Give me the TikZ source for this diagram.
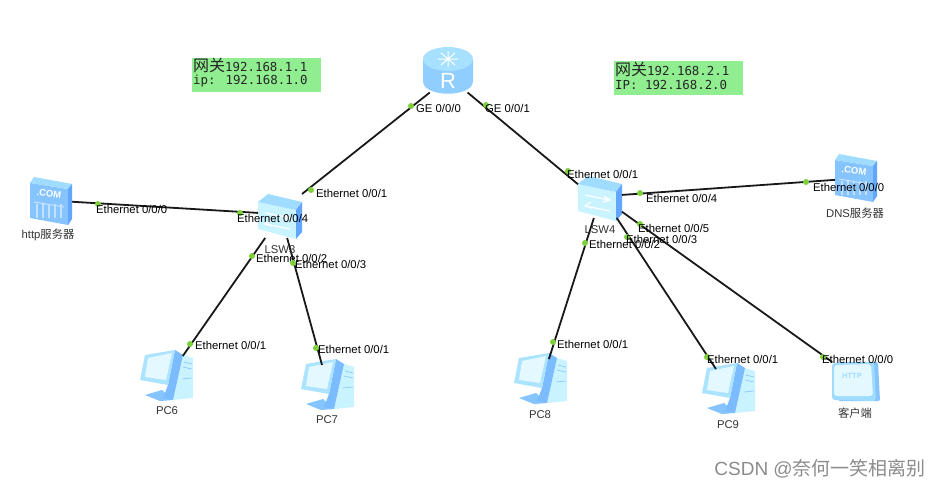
\documentclass[tikz,border=0pt]{standalone}
\usepackage{fontspec}
\setmainfont{Liberation Sans}
\newfontfamily\cjk{Noto Sans CJK SC}
\newfontfamily\monofam{DejaVu Sans Mono}
\usepackage{xcolor}
\usetikzlibrary{calc, positioning}
\definecolor{notegreen}{HTML}{90EE90}
\definecolor{portgreen}{HTML}{7FD13B}
\definecolor{iconpale}{HTML}{C9F3FF}
\definecolor{iconlight}{HTML}{9FDCFF}
\definecolor{iconmid}{HTML}{86C4FF}
\definecolor{icondark}{HTML}{62A6FF}
\tikzset{
  box/.style={minimum width=#1, inner sep=0pt, outer sep=0pt},
  pcbox/.style={box=44pt, minimum height=40pt},
  link/.style={draw=black!90, line width=1.8pt},
  port/.style={circle, fill=portgreen, inner sep=0pt, minimum size=6pt},
  portlabel/.style={anchor=west, inner sep=0pt, font=\fontsize{11.3}{13}\selectfont},
  devlabel/.style={inner sep=0pt, text=black!80, font=\fontsize{11.3}{13}\selectfont},
  note/.style={fill=notegreen, inner sep=0pt, minimum width=129pt, minimum height=34pt},
  notetext/.style={anchor=west, inner sep=0pt, text=black!85, font=\monofam\fontsize{12.4}{14}\selectfont},
  routericon/.pic={
    \fill[iconmid!60!iconlight] (-25,-11) -- (-25,11) .. controls (-25,28) and (25,28) .. (25,11) -- (25,-11) -- cycle;
    \fill[iconlight!80!iconpale] (0,-11) ellipse [x radius=25pt, y radius=12pt];
    \draw[white, line width=1pt] (-10,-11) -- (10,-11) (0,-19) -- (0,-3) (-7,-17) -- (7,-5) (7,-17) -- (-7,-5);
    \node[text=white, inner sep=0pt, font=\fontsize{22}{22}\selectfont] (-routerR) at (0,11) {R};
  },
  switchicon/.pic={
    \fill[iconpale] (-22,-14) -- (16,-6) -- (16,23) -- (-22,13) -- cycle;
    \fill[iconlight] (-22,-14) -- (-12,-22) -- (22,-14) -- (16,-6) -- cycle;
    \fill[icondark] (16,-6) -- (22,-14) -- (22,16) -- (16,23) -- cycle;
    \draw[white, line width=1.2pt] (-15,-3) -- (10,2) (4,-2) -- (10,2) -- (3,4) (-15,8) -- (10,13) (-9,4) -- (-15,8) -- (-8,10);
  },
  servericon/.pic={
    \fill[iconmid] (-21,-18) -- (17,-12) -- (17,24) -- (-21,17) -- cycle;
    \fill[iconlight] (-21,-18) -- (-17,-24) -- (21,-17) -- (17,-12) -- cycle;
    \fill[icondark] (17,-12) -- (21,-17) -- (21,18) -- (17,24) -- cycle;
    \node[text=white, inner sep=0pt, rotate=-8, font=\bfseries\fontsize{9.5}{10}\selectfont] (-dotcom) at (-2,-7) {.COM};
    \draw[white!70!iconmid, line width=0.8pt] (-17,1) -- (13,6);
    \foreach \s in {-14,-8,-2,4,10} {
      \draw[white!50!iconmid, line width=1.2pt] (\s,3) -- (\s,17);
    }
  },
  pcicon/.pic={
    \fill[iconmid] (-21,19) -- (-4,14) -- (7,24) -- (-6,25) -- cycle;
    \fill[iconpale] (17,-21) -- (27,-18) -- (27,22) -- (7,24) -- cycle;
    \draw[iconmid, line width=0.6pt] (18,-14) -- (26,-12) (17,-9) -- (26,-7) (16,3) -- (26,2);
    \fill[iconmid!70!icondark] (9,-26) -- (17,-21) -- (7,24) -- (-3,22) -- (2,9) -- cycle;
    \fill[iconlight!70!iconpale] (-21,-21) -- (9,-26) -- (2,9) -- (-26,4) -- cycle;
    \fill[iconpale!50!white] (-18,-18) -- (6,-23) -- (0,4) -- (-21,1) -- cycle;
  },
  clienticon/.pic={
    \fill[iconmid, rounded corners=2pt] (-18,-20) -- (22,-20) -- (24,19) -- (-18,19) -- cycle;
    \fill[iconlight, rounded corners=3pt] (-24,-19) -- (18,-20) -- (20,19) -- (-24,18) -- cycle;
    \fill[iconpale!50!white, rounded corners=3pt] (-22,-17) -- (15,-18) -- (17,14) -- (-22,14) -- cycle;
    \node[text=iconlight, inner sep=0pt, font=\bfseries\fontsize{7.5}{8}\selectfont] (-http) at (-4,-6) {HTTP};
  },
}
\begin{document}
\begin{tikzpicture}[x=1pt, y=-1pt]
    \useasboundingbox (0,0) rectangle (940,488);
    \fill[white] (0,0) rectangle (940,488);
    % Devices
    \pic at (448,70) {routericon};
    \node[box=50pt, minimum height=45pt] (R) at (448,70) {};
    \pic at (280,216) {switchicon};
    \node[box=44pt, minimum height=44pt] (LSW3) at (280,216) {};
    \pic at (600,198) {switchicon};
    \node[box=44pt, minimum height=40pt] (LSW4) at (600,198) {};
    \pic at (51,201) {servericon};
    \node[box=42pt, minimum height=48pt] (HTTP) at (51,201) {};
    \pic at (856,178) {servericon};
    \node[box=42pt, minimum height=47pt] (DNS) at (856,178) {};
    \pic at (856,382) {clienticon};
    \node[box=48pt, minimum height=40pt] (CLIENT) at (856,382) {};
    \foreach \i/\x/\y in {6/166/376, 7/327/385, 8/540/379, 9/728/389} {
      \pic at (\x,\y) {pcicon};
      \node[pcbox] (PC\i) at (\x,\y) {};
    }
    % Links
    \draw[link] (R.-129) -- (LSW3.45);
    \draw[link] (R.-49) -- (LSW4.148);
    \draw[link] (HTTP.-2) -- (LSW3.172);
    \draw[link] (LSW3.-124) -- (PC6.50);
    \draw[link] (LSW3.-72) -- (PC7.104);
    \draw[link] (LSW4.8) -- (DNS.185);
    \draw[link] (LSW4.-107) -- (PC8.66);
    \draw[link] (LSW4.-50) -- (PC9.121);
    \draw[link] (LSW4.-32) -- (CLIENT.140);
    % Ports
    \foreach \i/\x/\y/\lx/\ly/\t in {
      a/411/106/416/108/{GE 0/0/0}, b/486/105/485/108/{GE 0/0/1},
      c/311/190/316/193/{Ethernet 0/0/1}, d/98/204/96/209/{Ethernet 0/0/0},
      e/240/213/237/218/{Ethernet 0/0/4}, f/252/256/256/258/{Ethernet 0/0/2},
      g/293/263/295/264/{Ethernet 0/0/3}, h/190/344/195/345/{Ethernet 0/0/1},
      i/316/348/318/349/{Ethernet 0/0/1}, j/568/171/567/174/{Ethernet 0/0/1},
      k/640/193/646/198/{Ethernet 0/0/4}, l/806/182/813/187/{Ethernet 0/0/0},
      m/640/224/638/228/{Ethernet 0/0/5}, n/627/237/626/239/{Ethernet 0/0/3},
      o/585/243/589/244/{Ethernet 0/0/2}, p/553/342/557/344/{Ethernet 0/0/1},
      q/707/357/707/359/{Ethernet 0/0/1}, r/823/357/822/359/{Ethernet 0/0/0}} {
      \node[port] (dot\i) at (\x,\y) {};
      \node[portlabel] (lab\i) at (\lx,\ly) {\t};
    }
    % Device names
    \node[devlabel] (nameR3) at (280,250) {LSW3};
    \node[devlabel] (nameR4) at (600,230) {LSW4};
    \node[devlabel] (nameHTTP) at (48,235) {http{\cjk 服务器}};
    \node[devlabel] (nameDNS) at (855,213) {DNS{\cjk 服务器}};
    \node[devlabel] (namePC6) at (167,411) {PC6};
    \node[devlabel] (namePC7) at (327,420) {PC7};
    \node[devlabel] (namePC8) at (540,415) {PC8};
    \node[devlabel] (namePC9) at (728,425) {PC9};
    \node[devlabel] (nameCLIENT) at (855,413) {\cjk 客户端};
    % Notes
    \node[note] (noteA) at (256.5,75) {};
    \node[notetext] (noteAa) at (193,65.5) {{\cjk\fontsize{16}{16}\selectfont 网关}192.168.1.1};
    \node[notetext] (noteAb) at (193,81.5) {ip: 192.168.1.0};
    \node[note] (noteB) at (678.5,78) {};
    \node[notetext] (noteBa) at (615,69) {{\cjk\fontsize{16}{16}\selectfont 网关}192.168.2.1};
    \node[notetext] (noteBb) at (615,85) {IP: 192.168.2.0};
    % Watermark
    \node[anchor=east, inner sep=0pt, text=black!45, font=\fontsize{19}{20}\selectfont] (mark) at (926,469) {CSDN @{\cjk 奈何一笑相离别}};
  \end{tikzpicture}
\end{document}
